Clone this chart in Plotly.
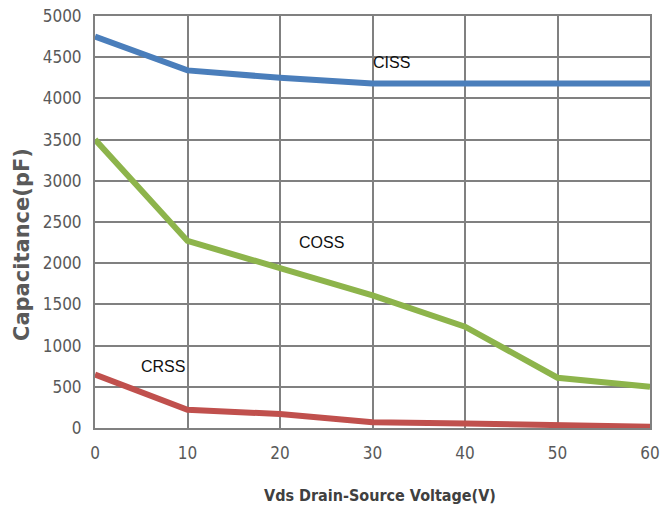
import plotly.graph_objects as go

vds = [0, 10, 20, 30, 40, 50, 60]
ciss = [4750, 4340, 4250, 4180, 4180, 4180, 4180]
coss = [3500, 2270, 1940, 1610, 1230, 610, 500]
crss = [650, 220, 170, 70, 55, 30, 15]

labels = ["CISS", "COSS", "CRSS"]
label_x = [32.1, 24.5, 7.4]
label_y = [4440, 2257, 752]

x_title = "Vds Drain-Source Voltage(V)"
y_title = "Capacitance(pF)"

COND = "DejaVu Sans Condensed, Liberation Sans Narrow, Arial Narrow, sans-serif"

fig = go.Figure()
for name, ys, col in [("CISS", ciss, "#4a7ebb"), ("COSS", coss, "#8db44b"), ("CRSS", crss, "#c0504d")]:
    fig.add_trace(go.Scatter(x=vds, y=ys, mode="lines", name=name,
                             line=dict(color=col, width=6), showlegend=False))

for t, x, y in zip(labels, label_x, label_y):
    fig.add_annotation(x=x, y=y, text=t, showarrow=False,
                       font=dict(family="Liberation Sans, Arial", size=16, color="#111111"))

# axis titles placed as annotations to match the reference offsets
fig.add_annotation(xref="paper", yref="paper", x=0.5, y=0, xshift=7, yshift=-67,
                   xanchor="center", yanchor="middle", showarrow=False,
                   text="<b>" + x_title + "</b>",
                   font=dict(family=COND, size=16, color="#404040"))
fig.add_annotation(xref="paper", yref="paper", x=0, y=0.5, xshift=-73, yshift=-23,
                   xanchor="center", yanchor="middle", showarrow=False, textangle=-90,
                   text="<b>" + y_title + "</b>",
                   font=dict(family="DejaVu Sans, Arial", size=21, color="#595959"))

fig.update_layout(
    width=669, height=513,
    margin=dict(l=95, r=19, t=16, b=85),
    paper_bgcolor="white", plot_bgcolor="white",
    font=dict(family=COND, color="#595959"),
)
fig.update_xaxes(range=[0, 60], tickvals=vds, showgrid=True, gridcolor="#808080", gridwidth=2,
                 showline=True, linecolor="#808080", linewidth=2, mirror=True, zeroline=False,
                 tickfont=dict(family=COND, size=17, color="#595959"),
                 ticks="outside", ticklen=9, tickcolor="rgba(0,0,0,0)", automargin=False,
                 ticklabeloverflow="allow")
fig.update_yaxes(range=[0, 5000], dtick=500, showgrid=True, gridcolor="#808080", gridwidth=2,
                 showline=True, linecolor="#808080", linewidth=2, mirror=True, zeroline=False,
                 tickfont=dict(family=COND, size=17, color="#595959"),
                 ticks="outside", ticklen=8, tickcolor="rgba(0,0,0,0)", automargin=False,
                 ticklabeloverflow="allow")

fig.write_html("out.html", config={"displayModeBar": False},
               post_script="document.body.style.margin='0';")
